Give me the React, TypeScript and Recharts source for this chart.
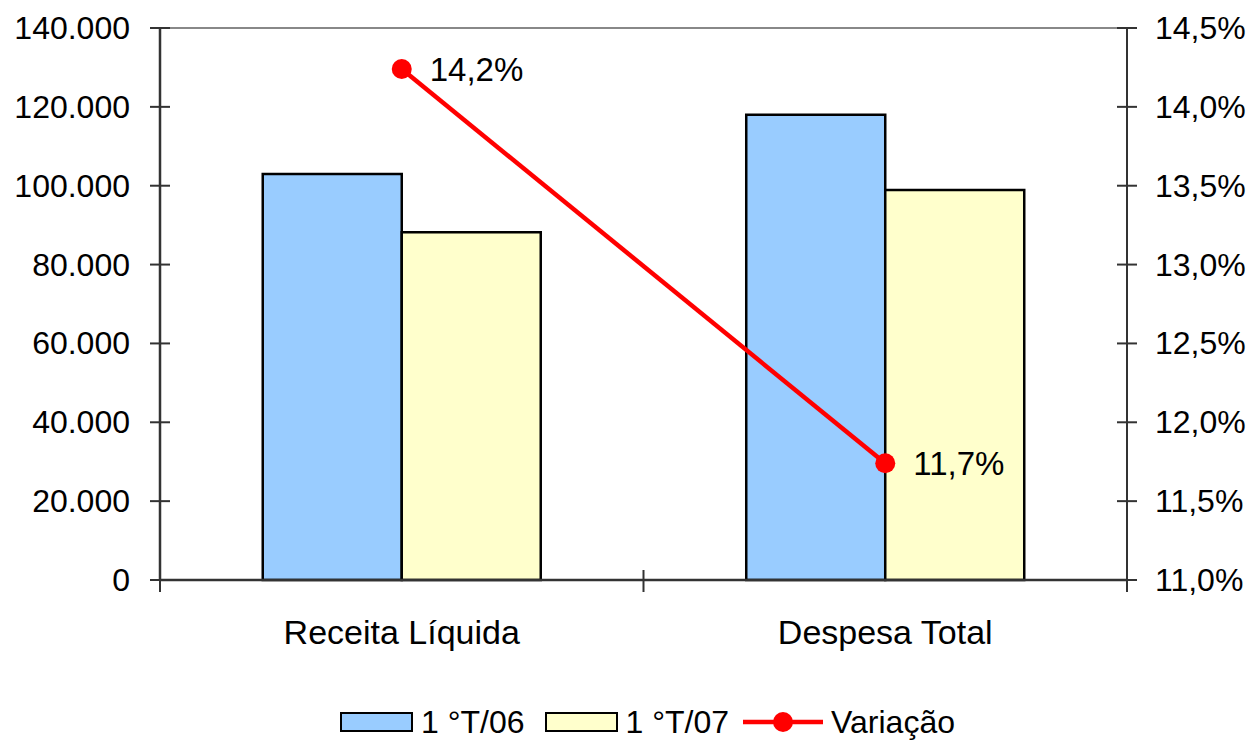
import { ComposedChart, Bar, Line, XAxis, YAxis, Legend, ReferenceLine } from "recharts"

// values
const categories = ["Receita Líquida", "Despesa Total"]
const t06 = [103000, 118000]
const t07 = [88200, 98900]
const variacao = [14.24, 11.74]
const leftTicks = [0, 20000, 40000, 60000, 80000, 100000, 120000, 140000]
const rightTicks = [11, 11.5, 12, 12.5, 13, 13.5, 14, 14.5]
const seriesNames = ["1 °T/06", "1 °T/07", "Variação"]

const data = categories.map((cat, i) => ({ cat, t06: t06[i], t07: t07[i], variacao: variacao[i] }))

const W = 1251
const H = 740
const LEFT_W = 160
const RIGHT_W = 124
const FONT = "'Liberation Sans', Arial, sans-serif"
const AXIS = "#333"
const BLUE = "#99CCFF"
const YELLOW = "#FFFFCC"
const RED = "#FF0000"

const fmtThousands = (v: number) => String(v).replace(/\B(?=(\d{3})+(?!\d))/g, ".")
const fmtPct = (v: number) => v.toFixed(1).replace(".", ",") + "%"

const LeftTick = (props: any) => {
  const { x, y, payload } = props
  return (
    <g>
      <line x1={x - 10} x2={x + 10} y1={y} y2={y} stroke={AXIS} strokeWidth={2} />
      <text x={x - 30} y={y} textAnchor="end" dominantBaseline="central" fontFamily={FONT} fontSize={32} fill="#000">
        {fmtThousands(payload.value)}
      </text>
    </g>
  )
}

const RightTick = (props: any) => {
  const { x, y, payload } = props
  return (
    <g>
      <line x1={x - 10} x2={x + 10} y1={y} y2={y} stroke={AXIS} strokeWidth={2} />
      <text x={x + 28} y={y} textAnchor="start" dominantBaseline="central" fontFamily={FONT} fontSize={32} fill="#000">
        {fmtPct(payload.value)}
      </text>
    </g>
  )
}

const band = (W - LEFT_W - RIGHT_W) / categories.length

const CatTick = (props: any) => {
  const { x, y, payload, index } = props
  return (
    <g>
      <line x1={x - band / 2} x2={x - band / 2} y1={y - 10} y2={y + 12} stroke={AXIS} strokeWidth={2} />
      {index === categories.length - 1 && (
        <line x1={x + band / 2} x2={x + band / 2} y1={y - 10} y2={y + 12} stroke={AXIS} strokeWidth={2} />
      )}
      <text x={x} y={y + 52} textAnchor="middle" dominantBaseline="central" fontFamily={FONT} fontSize={34} fill="#000">
        {payload.value}
      </text>
    </g>
  )
}

const PointLabel = (props: any) => {
  const { x, y, value } = props
  return (
    <text x={x + 28} y={y} textAnchor="start" dominantBaseline="central" fontFamily={FONT} fontSize={33} fill="#000">
      {fmtPct(value)}
    </text>
  )
}

const LegendContent = () => (
  <div
    style={{
      display: "flex",
      justifyContent: "center",
      alignItems: "center",
      height: 36,
      transform: "translateX(22px)",
      fontFamily: FONT,
      fontSize: 32,
      color: "#000",
      whiteSpace: "nowrap",
    }}
  >
    <span style={{ width: 73, height: 20, boxSizing: "border-box", background: BLUE, border: "2px solid #000", marginRight: 8 }} />
    <span style={{ marginRight: 20 }}>{seriesNames[0]}</span>
    <span style={{ width: 73, height: 20, boxSizing: "border-box", background: YELLOW, border: "2px solid #000", marginRight: 8 }} />
    <span style={{ marginRight: 14 }}>{seriesNames[1]}</span>
    <svg width={80} height={24} style={{ marginRight: 8 }}>
      <line x1={0} x2={80} y1={12} y2={12} stroke={RED} strokeWidth={4.5} />
      <circle cx={40} cy={12} r={10} fill={RED} />
    </svg>
    <span>{seriesNames[2]}</span>
  </div>
)

export default function App() {
  return (
    <div style={{ position: "absolute", left: 0, top: 0, background: "#fff" }}>
      <ComposedChart width={W} height={H} data={data} margin={{ top: 28, right: 0, bottom: 0, left: 0 }} barCategoryGap="21.25%" barGap={0}>
        <XAxis
          dataKey="cat"
          height={124}
          tickSize={0}
          tickMargin={0}
          tickLine={false}
          axisLine={{ stroke: AXIS, strokeWidth: 2.5 }}
          tick={<CatTick />}
          interval={0}
        />
        <YAxis
          yAxisId="left"
          orientation="left"
          width={LEFT_W}
          domain={[0, 140000]}
          ticks={leftTicks}
          interval={0}
          tickSize={0}
          tickMargin={0}
          tickLine={false}
          axisLine={{ stroke: AXIS, strokeWidth: 2.5 }}
          tick={<LeftTick />}
        />
        <YAxis
          yAxisId="right"
          orientation="right"
          width={RIGHT_W}
          domain={[11, 14.5]}
          ticks={rightTicks}
          interval={0}
          tickSize={0}
          tickMargin={0}
          tickLine={false}
          axisLine={{ stroke: AXIS, strokeWidth: 2 }}
          tick={<RightTick />}
        />
        <ReferenceLine yAxisId="left" y={140000} stroke="#888" strokeWidth={2} />
        <Legend verticalAlign="bottom" content={<LegendContent />} />
        <Bar yAxisId="left" dataKey="t06" name={seriesNames[0]} fill={BLUE} stroke="#000" strokeWidth={2.5} isAnimationActive={false} />
        <Bar yAxisId="left" dataKey="t07" name={seriesNames[1]} fill={YELLOW} stroke="#000" strokeWidth={2.5} isAnimationActive={false} />
        <Line
          yAxisId="right"
          dataKey="variacao"
          name={seriesNames[2]}
          stroke={RED}
          strokeWidth={4.5}
          dot={{ r: 10, fill: RED, stroke: RED, strokeWidth: 0 }}
          label={<PointLabel />}
          isAnimationActive={false}
        />
      </ComposedChart>
    </div>
  )
}
